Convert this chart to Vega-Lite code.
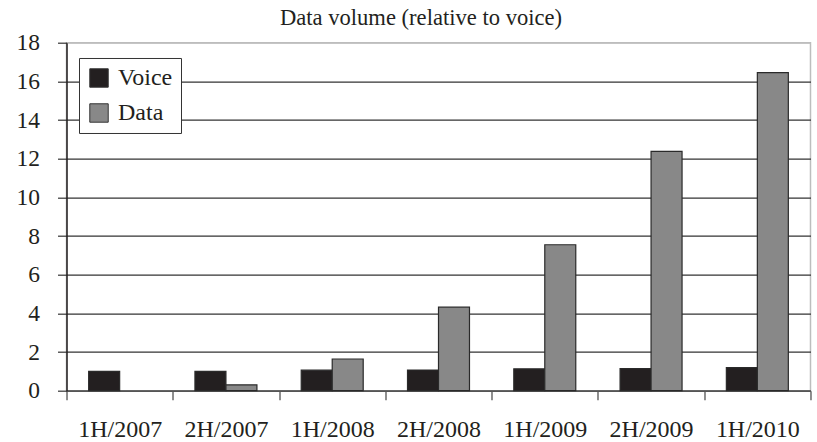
{
  "$schema": "https://vega.github.io/schema/vega-lite/v6.json",
  "width": 744,
  "height": 348,
  "autosize": {"type": "none"},
  "padding": {"left": 66.5, "top": 42.7, "right": 6.5, "bottom": 51},
  "background": "white",
  "title": {
    "text": "Data volume (relative to voice)",
    "font": "Liberation Serif",
    "fontSize": 22.6,
    "fontWeight": "normal",
    "color": "#231f20",
    "baseline": "bottom",
    "offset": -22,
    "dx": -17.5
  },
  "config": {
    "view": {"stroke": "#bdbdbd", "strokeWidth": 1.5},
    "font": "Liberation Serif"
  },
  "data": {
    "values": [
      {"period": "1H/2007", "series": "Voice", "value": 1.0},
      {"period": "1H/2007", "series": "Data", "value": 0},
      {"period": "2H/2007", "series": "Voice", "value": 1.0},
      {"period": "2H/2007", "series": "Data", "value": 0.3},
      {"period": "1H/2008", "series": "Voice", "value": 1.06},
      {"period": "1H/2008", "series": "Data", "value": 1.64},
      {"period": "2H/2008", "series": "Voice", "value": 1.07},
      {"period": "2H/2008", "series": "Data", "value": 4.32},
      {"period": "1H/2009", "series": "Voice", "value": 1.13},
      {"period": "1H/2009", "series": "Data", "value": 7.55},
      {"period": "2H/2009", "series": "Voice", "value": 1.14},
      {"period": "2H/2009", "series": "Data", "value": 12.38},
      {"period": "1H/2010", "series": "Voice", "value": 1.19},
      {"period": "1H/2010", "series": "Data", "value": 16.45}
    ]
  },
  "transform": [{"filter": "datum.value > 0"}],
  "mark": {"type": "bar", "stroke": "#2a2a2a", "strokeWidth": 1.2},
  "encoding": {
    "x": {
      "field": "period",
      "type": "nominal",
      "sort": null,
      "title": null,
      "scale": {"paddingInner": 0, "paddingOuter": 0},
      "axis": {
        "tickBand": "extent",
        "labelAngle": 0,
        "labelFont": "Liberation Serif",
        "labelFontSize": 24,
        "labelColor": "#231f20",
        "labelBaseline": "alphabetic",
        "labelPadding": 37,
        "tickSize": 9,
        "tickColor": "#444",
        "tickWidth": 1.2,
        "domainColor": "#555",
        "domainWidth": 1.5,
        "grid": false
      }
    },
    "xOffset": {
      "field": "series",
      "type": "nominal",
      "sort": ["Voice", "Data"],
      "scale": {"paddingInner": 0, "paddingOuter": 0.715}
    },
    "y": {
      "field": "value",
      "type": "quantitative",
      "title": null,
      "scale": {"domain": [0, 18], "nice": false},
      "axis": {
        "values": [0, 2, 4, 6, 8, 10, 12, 14, 16, 18],
        "labelFont": "Liberation Serif",
        "labelFontSize": 23.5,
        "labelColor": "#231f20",
        "labelPadding": 18,
        "tickSize": 9,
        "tickColor": "#333",
        "tickWidth": 1.2,
        "domainColor": "#231f20",
        "domainWidth": 1.5,
        "grid": true,
        "gridColor": {"condition": {"test": "datum.value == 18", "value": "#bdbdbd"}, "value": "#333"},
        "gridWidth": 1.2
      }
    },
    "color": {
      "field": "series",
      "type": "nominal",
      "sort": ["Voice", "Data"],
      "scale": {"domain": ["Voice", "Data"], "range": ["#231f20", "#888888"]},
      "legend": {
        "title": null,
        "orient": "none",
        "legendX": 12.5,
        "legendY": 15.3,
        "direction": "vertical",
        "symbolType": "square",
        "symbolSize": 340,
        "symbolStrokeColor": "#333",
        "symbolStrokeWidth": 1,
        "labelFont": "Liberation Serif",
        "labelFontSize": 24,
        "labelColor": "#231f20",
        "labelOffset": 7,
        "rowPadding": 11,
        "padding": 8,
        "strokeColor": "#333",
        "fillColor": "white"
      }
    }
  }
}
